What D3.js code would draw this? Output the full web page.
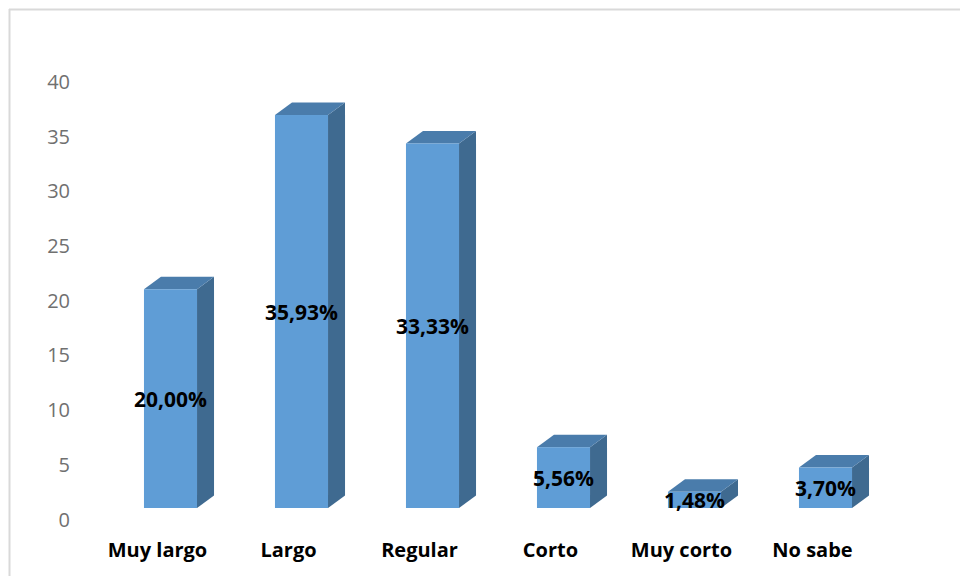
<!DOCTYPE html>
<html>
<head>
<meta charset="utf-8">
<script src="https://cdn.jsdelivr.net/npm/d3@7"></script>
<style>
html,body{margin:0;padding:0;background:#fff;}
svg{display:block;}
</style>
</head>
<body>
<script>
const categories = ["Muy largo", "Largo", "Regular", "Corto", "Muy corto", "No sabe"];
const values = [20.00, 35.93, 33.33, 5.56, 1.48, 3.70];
const valueLabels = ["20,00%", "35,93%", "33,33%", "5,56%", "1,48%", "3,70%"];
const yTicks = [0, 5, 10, 15, 20, 25, 30, 35, 40];

const W = 960, H = 576;
const svg = d3.select("body").append("svg").attr("width", W).attr("height", H);

// chart border (top + left visible)
svg.append("line").attr("x1", 9).attr("y1", 9.5).attr("x2", W).attr("y2", 9.5)
  .attr("stroke", "#d9d9d9").attr("stroke-width", 2);
svg.append("line").attr("x1", 9.5).attr("y1", 9).attr("x2", 9.5).attr("y2", H)
  .attr("stroke", "#d9d9d9").attr("stroke-width", 2);

const x = d3.scaleBand().domain(categories).range([105, 891]).padding(0);
const y = d3.scaleLinear().domain([0, 40]).range([508, 70.5]);

const barW = x.bandwidth() * 0.405;
const barOff = (x.bandwidth() - barW) / 2;
const dx = 17, dy = 12.5;

const frontColor = "#5f9dd6", topColor = "#4a7cab", sideColor = "#3f6a90";

// y tick labels
svg.append("g").selectAll("text").data(yTicks).join("text")
  .attr("x", 70).attr("y", d => y(d) + 11)
  .attr("text-anchor", "end").attr("dominant-baseline", "central")
  .attr("font-family", "'Open Sans', sans-serif").attr("font-size", 20)
  .attr("fill", "#707070").text(d => d);

const data = categories.map((c, i) => ({c, v: values[i], l: valueLabels[i]}));

const bars = svg.append("g").selectAll("g").data(data).join("g");
bars.each(function(d) {
  const g = d3.select(this);
  const x0 = x(d.c) + barOff, x1 = x0 + barW;
  const yt = y(d.v), yb = y(0);
  g.append("polygon")
    .attr("points", [[x1, yt], [x1 + dx, yt - dy], [x1 + dx, yb - dy], [x1, yb]].map(p => p.join(",")).join(" "))
    .attr("fill", sideColor);
  g.append("polygon")
    .attr("points", [[x0, yt], [x0 + dx, yt - dy], [x1 + dx, yt - dy], [x1, yt]].map(p => p.join(",")).join(" "))
    .attr("fill", topColor);
  g.append("rect").attr("x", x0).attr("y", yt).attr("width", barW).attr("height", yb - yt)
    .attr("fill", frontColor);
});

// value labels
svg.append("g").selectAll("text").data(data).join("text")
  .attr("x", d => x(d.c) + barOff + barW / 2)
  .attr("y", d => (y(d.v) + y(0)) / 2)
  .attr("text-anchor", "middle").attr("dominant-baseline", "central")
  .attr("font-family", "'Open Sans', sans-serif").attr("font-weight", "bold").attr("font-size", 21)
  .attr("fill", "#000").text(d => d.l);

// category labels
svg.append("g").selectAll("text").data(categories).join("text")
  .attr("x", d => x(d) + x.bandwidth() / 2 - 13)
  .attr("y", 557)
  .attr("text-anchor", "middle")
  .attr("font-family", "'Open Sans', sans-serif").attr("font-weight", "bold").attr("font-size", 20)
  .attr("fill", "#000").text(d => d);
</script>
</body>
</html>
